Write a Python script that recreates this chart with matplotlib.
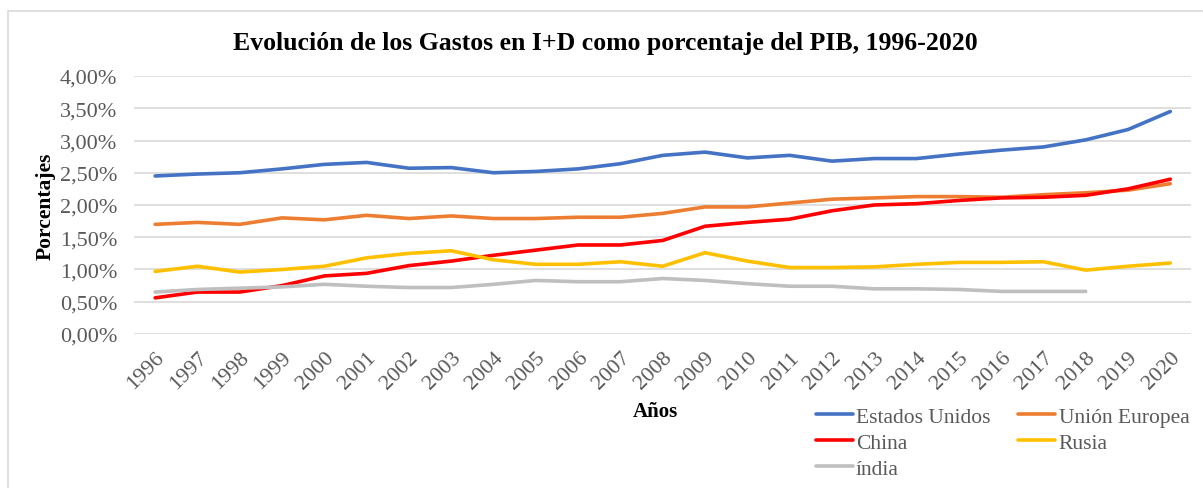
import matplotlib.pyplot as plt
from matplotlib.patches import Rectangle
from matplotlib.ticker import FuncFormatter

# años y gastos en I+D (% del PIB)
years = [str(y) for y in range(1996, 2021)]
eeuu = [2.45, 2.48, 2.50, 2.56, 2.63, 2.66, 2.57, 2.58, 2.50, 2.52, 2.56, 2.64, 2.77,
        2.82, 2.73, 2.77, 2.68, 2.72, 2.72, 2.79, 2.85, 2.90, 3.01, 3.17, 3.45]
ue = [1.70, 1.73, 1.70, 1.80, 1.77, 1.84, 1.79, 1.83, 1.79, 1.79, 1.81, 1.81, 1.87,
      1.97, 1.97, 2.03, 2.09, 2.11, 2.13, 2.13, 2.12, 2.16, 2.19, 2.23, 2.33]
china = [0.56, 0.65, 0.65, 0.75, 0.90, 0.94, 1.06, 1.13, 1.22, 1.30, 1.38, 1.38, 1.45,
         1.67, 1.73, 1.78, 1.91, 2.00, 2.02, 2.07, 2.11, 2.12, 2.15, 2.25, 2.40]
rusia = [0.97, 1.05, 0.96, 1.00, 1.05, 1.18, 1.25, 1.29, 1.15, 1.08, 1.08, 1.12, 1.05,
         1.26, 1.13, 1.03, 1.03, 1.04, 1.08, 1.11, 1.11, 1.12, 0.99, 1.05, 1.10]
india = [0.65, 0.69, 0.71, 0.73, 0.77, 0.74, 0.72, 0.72, 0.77, 0.83, 0.81, 0.81, 0.86,
         0.83, 0.78, 0.74, 0.74, 0.70, 0.70, 0.69, 0.66, 0.66, 0.66]

series = [('Estados Unidos', eeuu, '#4472c4'),
          ('Unión Europea', ue, '#ed7d31'),
          ('China', china, '#ff0000'),
          ('Rusia', rusia, '#ffc000'),
          ('índia', india, '#bfbfbf')]

plt.rcParams['font.family'] = ['Liberation Serif', 'DejaVu Serif']

fig = plt.figure(figsize=(12.03, 4.89), dpi=100)
ax = fig.add_axes([0.1114, 0.315, 0.879, 0.5275])

# borde del área del gráfico
fig.patches.append(Rectangle((8 / 1203, -0.1), 1.2, 1 - 12 / 489 + 0.1, transform=fig.transFigure,
                             fill=False, edgecolor='#d9d9d9', linewidth=1.2))

x = list(range(len(years)))
lines = {}
for name, vals, col in series:
    lines[name], = ax.plot(x[:len(vals)], vals, color=col, linewidth=2.6, label=name,
                           solid_capstyle='round')

ax.set_xlim(-0.5, len(years) - 0.5)
ax.set_ylim(0, 4.0)
ax.set_yticks([i * 0.5 for i in range(9)])
ax.yaxis.set_major_formatter(FuncFormatter(lambda v, p: f'{v:.2f}%'.replace('.', ',')))
ax.set_xticks(x)
ax.set_xticklabels(years, rotation=45, ha='right', rotation_mode='anchor')
ax.grid(axis='y', color='#d9d9d9', linewidth=1.2)
ax.set_axisbelow(True)
for s in ax.spines.values():
    s.set_visible(False)
ax.tick_params(axis='both', length=0, labelsize=16, labelcolor='#595959')
ax.tick_params(axis='y', pad=12)
ax.tick_params(axis='x', pad=10)

fig.text(0.503, 0.912, 'Evolución de los Gastos en I+D como porcentaje del PIB, 1996-2020',
         fontsize=18.5, fontweight='bold', ha='center', va='center')
ax.set_ylabel('Porcentajes', fontsize=15.5, fontweight='bold', labelpad=3)
fig.text(0.545, 0.157, 'Años', fontsize=15, fontweight='bold', ha='center', va='center')

# leyenda por filas: EEUU, UE / China, Rusia / índia
order = ['Estados Unidos', 'China', 'índia', 'Unión Europea', 'Rusia']
leg = fig.legend([lines[n] for n in order], order, loc='upper left',
                 bbox_to_anchor=(0.678, 0.166), ncol=2, frameon=False,
                 fontsize=15.5, handlelength=1.72, handletextpad=0.15, columnspacing=1.3,
                 labelspacing=0.27, borderaxespad=0, borderpad=0)
for t in leg.get_texts():
    t.set_color('#595959')

fig.savefig('out.png', dpi=100)
